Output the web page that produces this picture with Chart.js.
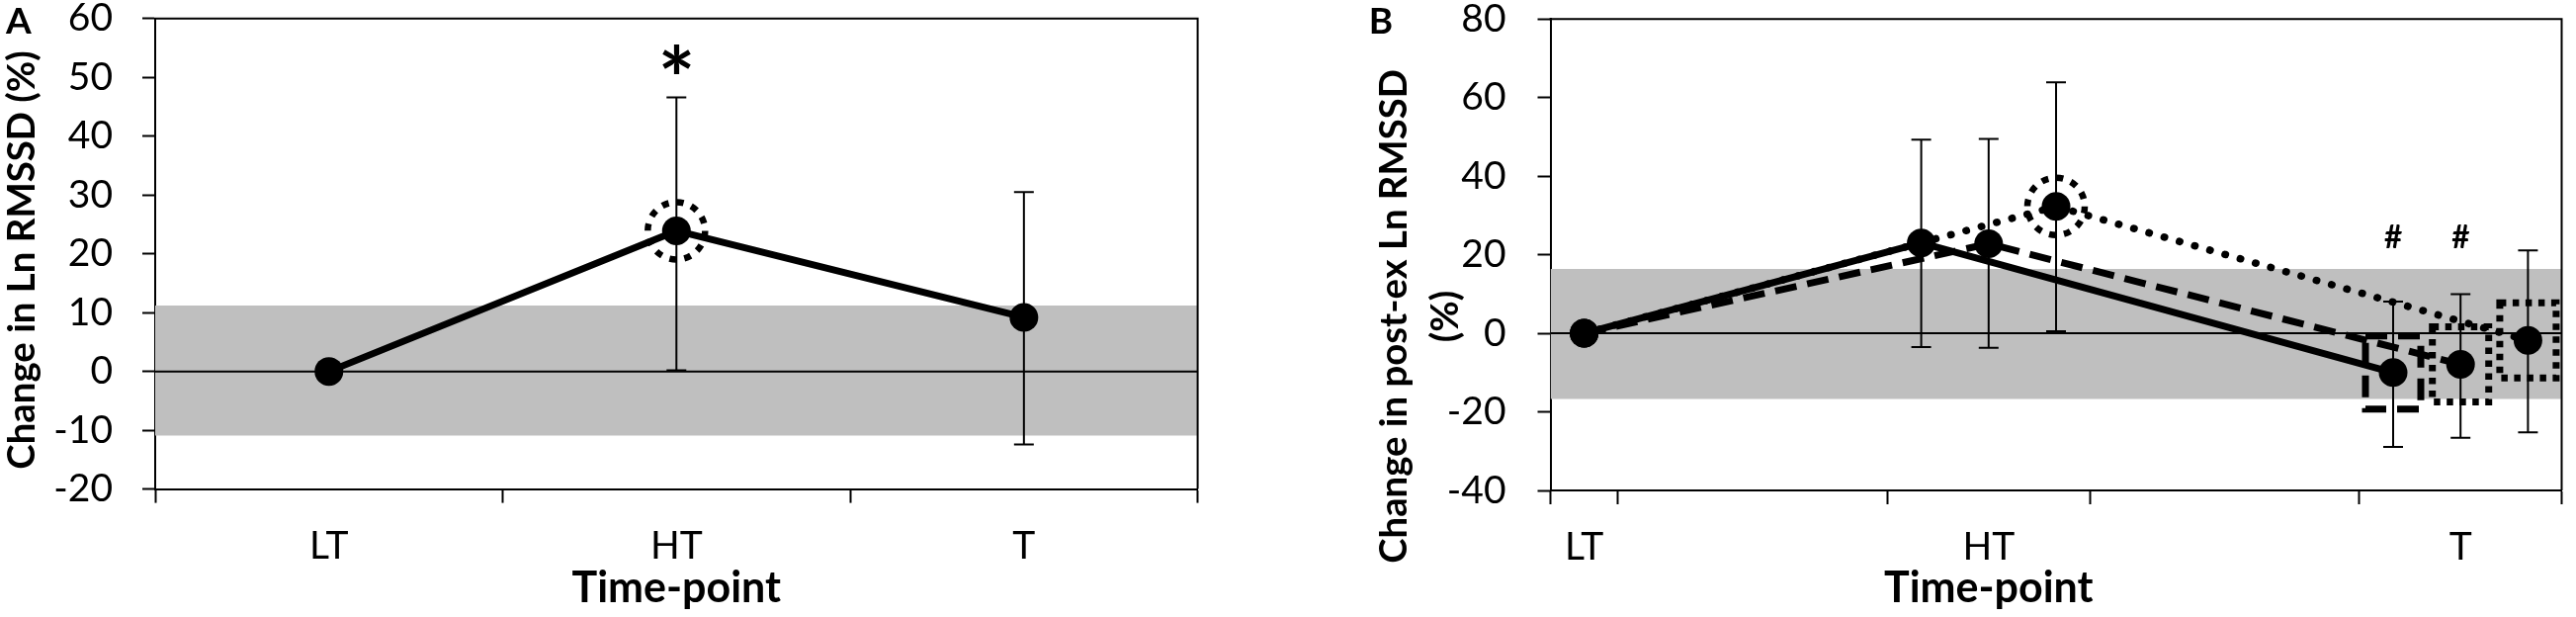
<!DOCTYPE html>
<html><head><meta charset="utf-8">
<script src="https://cdn.jsdelivr.net/npm/chart.js@4.4.1/dist/chart.umd.min.js"></script>
<style>
html,body{margin:0;padding:0;background:#fff;width:2606px;height:624px;overflow:hidden}
.wrap{position:absolute;top:0;height:624px}
#wa{left:0;width:1280px}
#wb{left:1290px;width:1316px}
canvas{display:block}
</style></head><body>
<div class="wrap" id="wa"><canvas id="ca"></canvas></div>
<div class="wrap" id="wb"><canvas id="cb"></canvas></div>
<script>
// ---------- Panel A data ----------
const categoriesA = ['LT', 'HT', 'T'];
const labelXA = [0.5, 1.5, 2.5];
const xBoundsA = [0, 1, 2, 3];
const xMeanA = [0.5, 1.5, 2.5];
const yMeanA = [0, 23.9, 9.2];
const yUpperA = [null, 46.6, 30.5];
const yLowerA = [null, 0.2, -12.4];
const bandA = [11.2, -10.9];
const yTicksA = [-20, 60, 10];          // min, max, step
const marksA = [{x: 1.5, y: 53.0, text: '*'}];

// ---------- Panel B data ----------
const categoriesB = ['LT', 'HT', 'T'];
const labelXB = [0.5, 6.5, 13.5];
const xBoundsB = [0, 1, 5, 8, 12, 15];
const xSolidB = [0.5, 5.5, 12.5];
const ySolidB = [0, 23.0, -10.0];
const upSolidB = [null, 49.3, 8.1];
const loSolidB = [null, -3.5, -28.9];
const xDashB = [0.5, 6.5, 13.5];
const yDashB = [0, 22.8, -7.9];
const upDashB = [null, 49.5, 10.0];
const loDashB = [null, -3.7, -26.6];
const xDotB = [0.5, 7.5, 14.5];
const yDotB = [0, 32.3, -1.8];
const upDotB = [null, 63.9, 21.1];
const loDotB = [null, 0.5, -25.2];
const bandB = [16.4, -16.7];
const yTicksB = [-40, 80, 20];
const marksB = [{x: 12.5, y: 24.8, text: '#'}, {x: 13.5, y: 24.8, text: '#'}];

// ---------- helpers ----------
const FONT = 'Lato';
Chart.defaults.font.family = FONT;
Chart.defaults.color = '#000';

function pts(xs, ys) { return xs.map((x, i) => ({x, y: ys[i]})); }
function errData(list) {
  const d = [];
  list.forEach(([xs, lo, up]) => xs.forEach((x, i) => {
    if (up[i] == null) return;
    d.push({x, y: lo[i]}, {x, y: up[i]}, {x, y: null});
  }));
  return d;
}
function fitSize(ctx, text, weight, target, dim) {
  ctx.font = weight + ' 100px ' + FONT;
  ctx.textBaseline = 'alphabetic';
  const m = ctx.measureText(text);
  const v = dim === 'h' ? (m.actualBoundingBoxAscent + m.actualBoundingBoxDescent)
                        : (m.actualBoundingBoxLeft + m.actualBoundingBoxRight);
  return 100 * target / v;
}
function zeroPad(s) { s.paddingTop = 0; s.paddingBottom = 0; s.paddingLeft = 0; s.paddingRight = 0; }

const decor = {
  id: 'decor',
  afterDatasetsDraw(chart, args, o) {
    const ctx = chart.ctx, ca = chart.chartArea, xs = chart.scales.x, ys = chart.scales.y;
    ctx.save();
    // plot frame (top + right)
    ctx.strokeStyle = '#000'; ctx.lineWidth = 2; ctx.setLineDash([]);
    ctx.beginPath(); ctx.moveTo(ca.left - 1, ca.top); ctx.lineTo(ca.right, ca.top); ctx.lineTo(ca.right, ca.bottom); ctx.stroke();
    // highlight outlines around chosen points
    (o.highlights || []).forEach(h => {
      const el = chart.getDatasetMeta(h.ds).data[h.i];
      ctx.save();
      ctx.lineWidth = h.w; ctx.setLineDash(h.dash); ctx.lineCap = 'butt'; ctx.strokeStyle = '#000';
      ctx.beginPath();
      if (h.shape === 'circle') ctx.arc(el.x, el.y, h.r, 0, Math.PI * 2);
      else ctx.rect(el.x - h.hw, el.y - h.hh, 2 * h.hw, 2 * h.hh);
      ctx.stroke();
      ctx.restore();
    });
    // significance marks
    ctx.fillStyle = '#000';
    (o.marks || []).forEach(m => {
      const size = fitSize(ctx, m.text, m.weight, m.h, 'h');
      ctx.font = m.weight + ' ' + size.toFixed(2) + 'px ' + FONT;
      ctx.textAlign = 'left'; ctx.textBaseline = 'alphabetic';
      const mt = ctx.measureText(m.text);
      const cx = xs.getPixelForValue(m.x), cy = ys.getPixelForValue(m.y);
      ctx.fillText(m.text, cx - (mt.actualBoundingBoxRight - mt.actualBoundingBoxLeft) / 2,
        cy + (mt.actualBoundingBoxAscent - mt.actualBoundingBoxDescent) / 2);
    });
    // panel letter
    ctx.font = 'bold 37px ' + FONT; ctx.textAlign = 'left'; ctx.textBaseline = 'alphabetic';
    ctx.fillText(o.letter.text, o.letter.x, o.letter.y);
    // y-axis title
    const yt = o.yTitle;
    const ys1 = fitSize(ctx, yt.lines[0], 'bold', yt.fitW, 'w');
    ctx.font = 'bold ' + ys1.toFixed(2) + 'px ' + FONT;
    ctx.save(); ctx.translate(yt.baseX, yt.cy); ctx.rotate(-Math.PI / 2);
    ctx.textAlign = 'center'; ctx.textBaseline = 'alphabetic';
    yt.lines.forEach((ln, k) => ctx.fillText(ln, 0, k * yt.gap));
    ctx.restore();
    // x-axis title
    const xt = o.xTitle;
    const xs1 = fitSize(ctx, xt.text, 'bold', xt.fitW, 'w');
    ctx.font = 'bold ' + xs1.toFixed(2) + 'px ' + FONT; ctx.textAlign = 'center'; ctx.textBaseline = 'alphabetic';
    ctx.fillText(xt.text, xs.getPixelForValue(xt.atX), xt.baseline);
    ctx.restore();
  }
};

function buildPanel(id, P) {
  const datasets = [];
  datasets.push({data: [{x: P.xMin, y: P.band[0]}, {x: P.xMax, y: P.band[0]}],
    borderWidth: 0, pointRadius: 0, fill: {value: P.band[1]}, backgroundColor: 'rgb(191,191,191)', order: 20});
  datasets.push({data: [{x: P.xMin, y: 0}, {x: P.xMax, y: 0}], borderColor: '#000', borderWidth: 2,
    pointRadius: 0, fill: false, order: 19});
  datasets.push({data: errData(P.err), borderColor: '#000', borderWidth: 2, spanGaps: false, fill: false,
    pointStyle: 'line', pointRadius: 10, pointBorderWidth: 2, pointBorderColor: '#000', order: 18});
  P.series.forEach((s, k) => datasets.push({data: pts(s.x, s.y), borderColor: '#000', borderWidth: s.w || 7,
    borderDash: s.dash, borderCapStyle: s.cap, borderJoinStyle: 'round', tension: 0, fill: false,
    pointRadius: 14.5, pointBackgroundColor: '#000', pointBorderWidth: 0, order: 10 - k}));
  const tickSet = [...P.xBounds, ...P.labelX].sort((a, b) => a - b);
  return new Chart(document.getElementById(id), {
    type: 'line',
    data: {datasets},
    options: {
      responsive: true, maintainAspectRatio: false, animation: false, events: [],
      layout: {padding: P.pad},
      plugins: {legend: {display: false}, tooltip: {enabled: false}, decor: P.decor},
      scales: {
        x: {type: 'linear', min: P.xMin, max: P.xMax,
          afterBuildTicks: s => { s.ticks = tickSet.map(v => ({value: v})); },
          afterFit: s => { s.height = P.xH; zeroPad(s); },
          ticks: {autoSkip: false, maxRotation: 0, padding: 20, color: '#000', font: {size: 39},
            callback: v => { const i = P.labelX.indexOf(v); return i >= 0 ? P.categories[i] : ''; }},
          grid: {drawOnChartArea: false, drawTicks: true, tickLength: 14, tickWidth: 2,
            tickColor: c => P.xBounds.includes(c.tick.value) ? '#000' : 'rgba(0,0,0,0)'},
          border: {display: true, color: '#000', width: 2}},
        y: {type: 'linear', min: P.yT[0], max: P.yT[1],
          afterFit: s => { s.width = P.yW; zeroPad(s); },
          ticks: {stepSize: P.yT[2], padding: P.yPad, color: '#000', font: {size: 39}},
          grid: {drawOnChartArea: false, drawTicks: true, tickLength: 13, tickWidth: 2, tickColor: '#000'},
          border: {display: true, color: '#000', width: 2}}
      }
    },
    plugins: [decor]
  });
}

// ---------- Panel A ----------
buildPanel('ca', {
  categories: categoriesA, labelX: labelXA, xBounds: xBoundsA, xMin: 0, xMax: 3,
  band: bandA, yT: yTicksA,
  err: [[xMeanA, yLowerA, yUpperA]],
  series: [{x: xMeanA, y: yMeanA, dash: [], cap: 'butt'}],
  pad: {left: 0, top: 18.7, right: 68.4, bottom: 0}, yW: 157, xH: 129.4, yPad: 30,
  decor: {
    highlights: [{ds: 3, i: 1, shape: 'circle', r: 29, w: 6.5, dash: [7, 8.2]}],
    marks: marksA.map(m => ({...m, weight: 'bold', h: 30})),
    letter: {text: 'A', x: 6, y: 34},
    yTitle: {lines: ['Change in Ln RMSSD (%)'], baseX: 34.8, cy: 263, gap: 0, fitW: 421},
    xTitle: {text: 'Time-point', atX: 1.5, baseline: 609, fitW: 211}
  }
});

// ---------- Panel B ----------
buildPanel('cb', {
  categories: categoriesB, labelX: labelXB, xBounds: xBoundsB, xMin: 0, xMax: 15,
  band: bandB, yT: yTicksB,
  err: [[xSolidB, loSolidB, upSolidB], [xDashB, loDashB, upDashB], [xDotB, loDotB, upDotB]],
  series: [
    {x: xDotB, y: yDotB, dash: [0.5, 15.5], cap: 'round', w: 7.5},
    {x: xDashB, y: yDashB, dash: [22, 11], cap: 'butt'},
    {x: xSolidB, y: ySolidB, dash: [], cap: 'butt'}
  ],
  pad: {left: 0, top: 19.3, right: 6.7, bottom: 0}, yW: 278.5, xH: 128, yPad: 32,
  decor: {
    highlights: [
      {ds: 3, i: 1, shape: 'circle', r: 29, w: 6.5, dash: [7, 8.2]},
      {ds: 5, i: 2, shape: 'rect', hw: 28, hh: 37, w: 7, dash: [22, 11]},
      {ds: 4, i: 2, shape: 'rect', hw: 28.5, hh: 38, w: 7, dash: [6.5, 6.5]},
      {ds: 3, i: 2, shape: 'rect', hw: 28.5, hh: 38, w: 7, dash: [6.5, 6.5]}
    ],
    marks: marksB.map(m => ({...m, weight: 'bold', h: 22.7})),
    letter: {text: 'B', x: 94.8, y: 34},
    yTitle: {lines: ['Change in post-ex Ln RMSSD', '(%)'], baseX: 133, cy: 320, gap: 52, fitW: 497.4},
    xTitle: {text: 'Time-point', atX: 6.5, baseline: 609, fitW: 211}
  }
});
</script>
</body></html>
